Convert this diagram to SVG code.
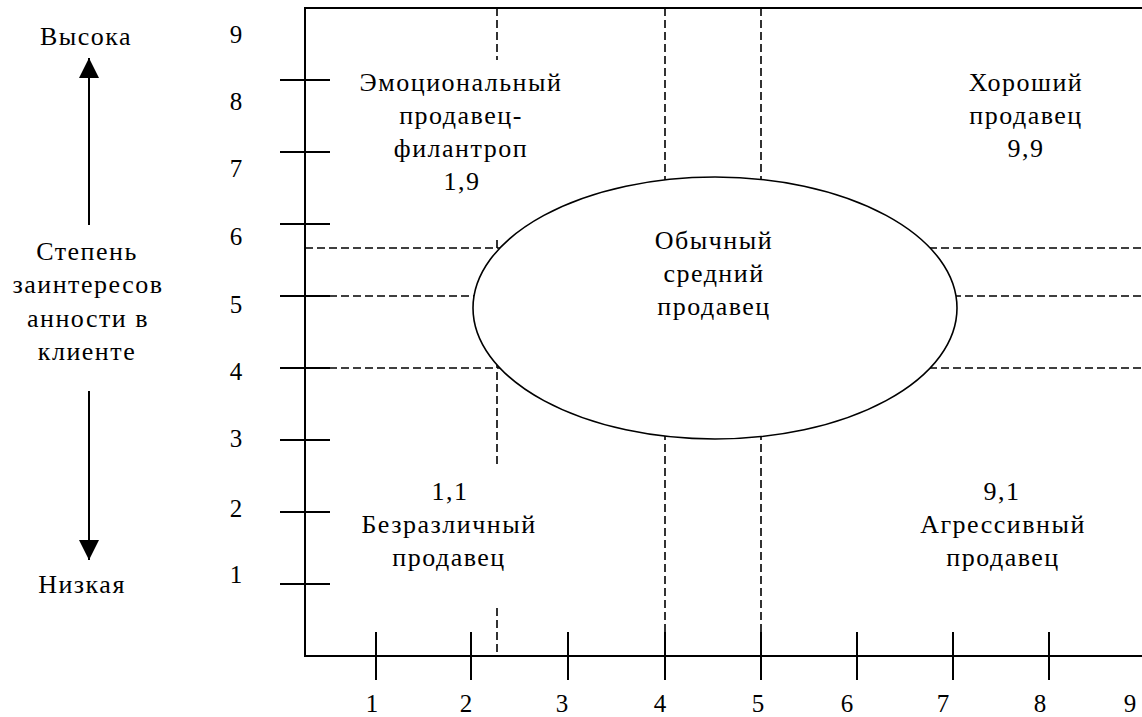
<svg xmlns="http://www.w3.org/2000/svg" width="1142" height="717" viewBox="0 0 1142 717">
<style>
.t{font-family:"Liberation Serif","Times New Roman",serif;font-size:26px;fill:#000;text-anchor:middle;letter-spacing:1.5px}
.n{font-family:"Liberation Serif","Times New Roman",serif;font-size:25px;fill:#000;text-anchor:middle}
.ax{stroke:#000;stroke-width:2;fill:none}
.d{stroke:#000;stroke-width:1.6;stroke-dasharray:8 4;fill:none}
.e{stroke:#000;stroke-width:1.6;fill:#fff}
</style>
<defs>
<marker id="ah" markerWidth="22" markerHeight="20" refX="20" refY="10" orient="auto" markerUnits="userSpaceOnUse">
<path d="M0,0 L20,10 L0,20 Z" fill="#000"/>
</marker>
</defs>
<rect width="1142" height="717" fill="#fff"/>
<g id="grid">
<line class="d" x1="497" y1="8" x2="497" y2="60"/>
<line class="d" x1="497" y1="240" x2="497" y2="465"/>
<line class="d" x1="497" y1="608" x2="497" y2="656"/>
<line class="d" x1="665" y1="8" x2="665" y2="200"/>
<line class="d" x1="761" y1="8" x2="761" y2="200"/>
<line class="d" x1="665" y1="420" x2="665" y2="650"/>
<line class="d" x1="761" y1="420" x2="761" y2="650"/>
<line class="d" x1="305" y1="248" x2="1142" y2="248"/>
<line class="d" x1="305" y1="296" x2="1142" y2="296"/>
<line class="d" x1="305" y1="368" x2="1142" y2="368"/>
</g>
<g id="center-node">
<ellipse class="e" cx="715" cy="308" rx="242" ry="131"/>
<text class="t" x="714" y="249">Обычный</text>
<text class="t" x="714" y="282">средний</text>
<text class="t" x="714" y="315">продавец</text>
</g>
<g id="axes">
<path class="ax" d="M1142,8 H305 V656 H1142"/>
<path class="ax" d="M280,80 H330 M280,152 H330 M280,224 H330 M280,296 H330 M280,368 H330 M280,440 H330 M280,512 H330 M280,584 H330"/>
<path class="ax" d="M376,632 V680 M471,632 V680 M568,632 V680 M665,632 V680 M761,632 V680 M857,632 V680 M953,632 V680 M1049,632 V680"/>
</g>
<g id="y-labels">
<text class="n" x="236" y="43">9</text>
<text class="n" x="236" y="110">8</text>
<text class="n" x="236" y="177">7</text>
<text class="n" x="236" y="245">6</text>
<text class="n" x="236" y="313">5</text>
<text class="n" x="236" y="380">4</text>
<text class="n" x="236" y="447">3</text>
<text class="n" x="236" y="517">2</text>
<text class="n" x="236" y="583">1</text>
</g>
<g id="x-labels">
<text class="n" x="372" y="712">1</text>
<text class="n" x="466" y="712">2</text>
<text class="n" x="562" y="712">3</text>
<text class="n" x="660" y="712">4</text>
<text class="n" x="758" y="712">5</text>
<text class="n" x="847" y="712">6</text>
<text class="n" x="943" y="712">7</text>
<text class="n" x="1040" y="712">8</text>
<text class="n" x="1130" y="712">9</text>
</g>
<g id="connectors">
<line class="ax" x1="89" y1="225" x2="89" y2="58" marker-end="url(#ah)"/>
<line class="ax" x1="89" y1="391" x2="89" y2="560" marker-end="url(#ah)"/>
</g>
<g id="axis-title">
<text class="t" x="86" y="45">Высока</text>
<text class="t" x="87" y="260">Степень</text>
<text class="t" x="88" y="293">заинтересов</text>
<text class="t" x="88" y="327">анности в</text>
<text class="t" x="87" y="360">клиенте</text>
<text class="t" x="82" y="593">Низкая</text>
</g>
<g id="node-1-9">
<text class="t" x="461" y="91">Эмоциональный</text>
<text class="t" x="461" y="124">продавец-</text>
<text class="t" x="461" y="157">филантроп</text>
<text class="t" x="462" y="190">1,9</text>
</g>
<g id="node-9-9">
<text class="t" x="1026" y="91">Хороший</text>
<text class="t" x="1026" y="124">продавец</text>
<text class="t" x="1026" y="157">9,9</text>
</g>
<g id="node-1-1">
<text class="t" x="450" y="500">1,1</text>
<text class="t" x="449" y="533">Безразличный</text>
<text class="t" x="449" y="566">продавец</text>
</g>
<g id="node-9-1">
<text class="t" x="1002" y="500">9,1</text>
<text class="t" x="1003" y="533">Агрессивный</text>
<text class="t" x="1003" y="566">продавец</text>
</g>
</svg>
